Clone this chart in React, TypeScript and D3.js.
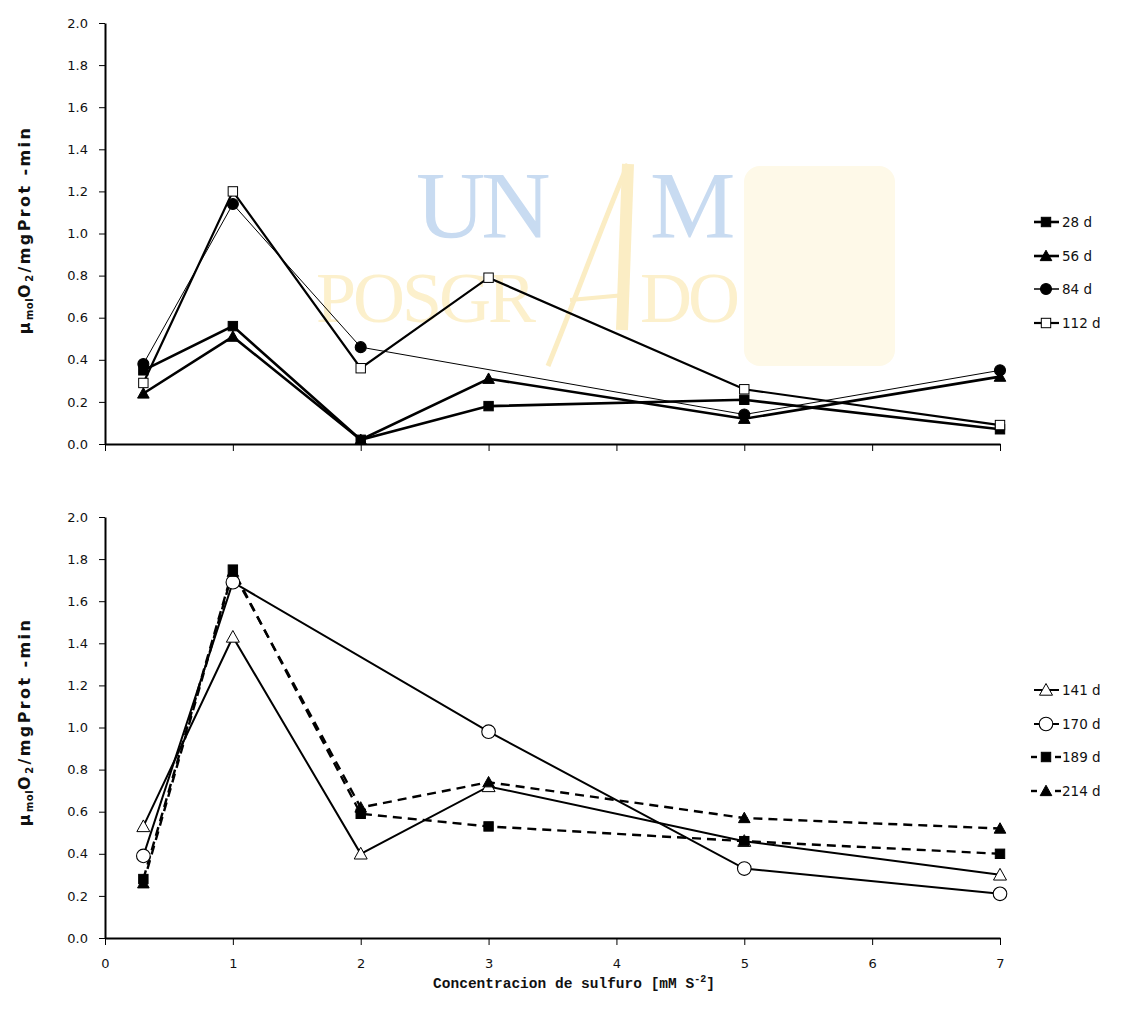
import React, { useEffect, useRef } from "react";
import * as d3 from "d3";

const xValues = [0.3, 1, 2, 3, 5, 7];
const xTicks = [0, 1, 2, 3, 4, 5, 6, 7];
const yTicks = [0, 0.2, 0.4, 0.6, 0.8, 1.0, 1.2, 1.4, 1.6, 1.8, 2.0];

const top28 = [0.35, 0.56, 0.02, 0.18, 0.21, 0.07];
const top56 = [0.24, 0.51, 0.02, 0.31, 0.12, 0.32];
const top84 = [0.38, 1.14, 0.46, null, 0.14, 0.35];
const top112 = [0.29, 1.2, 0.36, 0.79, 0.26, 0.09];

const bot141 = [0.53, 1.43, 0.4, 0.72, 0.46, 0.3];
const bot170 = [0.39, 1.69, null, 0.98, 0.33, 0.21];
const bot189 = [0.28, 1.75, 0.59, 0.53, 0.46, 0.4];
const bot214 = [0.26, 1.74, 0.62, 0.74, 0.57, 0.52];

type Marker = "sqF" | "triF" | "cirF" | "sqO" | "triO" | "cirO";
interface Series {
  name: string;
  values: (number | null)[];
  marker: Marker;
  width: number;
  dash?: string;
}

const topSeries: Series[] = [
  { name: "28 d", values: top28, marker: "sqF", width: 2.6 },
  { name: "56 d", values: top56, marker: "triF", width: 2.6 },
  { name: "84 d", values: top84, marker: "cirF", width: 1 },
  { name: "112 d", values: top112, marker: "sqO", width: 2.2 },
];
const botSeries: Series[] = [
  { name: "141 d", values: bot141, marker: "triO", width: 2 },
  { name: "170 d", values: bot170, marker: "cirO", width: 2 },
  { name: "189 d", values: bot189, marker: "sqF", width: 2.4, dash: "9,6" },
  { name: "214 d", values: bot214, marker: "triF", width: 2.4, dash: "9,6" },
];

const W = 1139;
const H = 1015;
const X0 = 105;
const X1 = 1000;
const FONT = "'DejaVu Sans', Verdana, sans-serif";

function drawMarker(g: any, m: Marker, cx: number, cy: number) {
  const s = 4.7;
  if (m === "sqF" || m === "sqO") {
    g.append("rect")
      .attr("x", cx - s)
      .attr("y", cy - s)
      .attr("width", 2 * s)
      .attr("height", 2 * s)
      .attr("fill", m === "sqF" ? "#000" : "#fff")
      .attr("stroke", "#000")
      .attr("stroke-width", 1);
  } else if (m === "triF" || m === "triO") {
    const r = m === "triO" ? 6.5 : 5.8;
    g.append("path")
      .attr("d", `M${cx},${cy - r}L${cx + r},${cy + r * 0.8}L${cx - r},${cy + r * 0.8}Z`)
      .attr("fill", m === "triF" ? "#000" : "#fff")
      .attr("stroke", "#000")
      .attr("stroke-width", 1);
  } else {
    g.append("circle")
      .attr("cx", cx)
      .attr("cy", cy)
      .attr("r", m === "cirF" ? 5.5 : 6.8)
      .attr("fill", m === "cirF" ? "#000" : "#fff")
      .attr("stroke", "#000")
      .attr("stroke-width", 1.1);
  }
}

function drawPanel(svg: any, series: Series[], yTop: number, yBot: number, showXLabels: boolean, legendY: number[]) {
  const x = d3.scaleLinear().domain([0, 7]).range([X0, X1]);
  const y = d3.scaleLinear().domain([0, 2]).range([yBot, yTop]);
  const g = svg.append("g");

  const ya = g.append("g").attr("transform", `translate(${X0},0)`).call(
    d3.axisLeft(y).tickValues(yTicks).tickFormat(d3.format(".1f")).tickSize(6).tickSizeOuter(0)
  );
  ya.select(".domain").attr("stroke-width", 2);
  ya.selectAll("line").attr("stroke-width", 1);
  ya.selectAll("text").attr("font-family", FONT).attr("font-size", 13).attr("fill", "#111").attr("dx", -8);

  const xa = g.append("g").attr("transform", `translate(0,${yBot})`).call(
    d3.axisBottom(x).tickValues(xTicks).tickSize(7).tickSizeOuter(0)
      .tickFormat((d: any) => (showXLabels ? String(d) : ""))
  );
  xa.select(".domain").attr("stroke-width", 2);
  xa.selectAll("line").attr("stroke-width", 1);
  xa.selectAll("text").attr("font-family", FONT).attr("font-size", 13).attr("fill", "#111").attr("dy", "1.55em");

  const line = d3.line<[number, number]>().x((d) => x(d[0])).y((d) => y(d[1]));

  series.forEach((s) => {
    const pts: [number, number][] = [];
    s.values.forEach((v, i) => {
      if (v !== null) pts.push([xValues[i], v]);
    });
    g.append("path")
      .attr("d", line(pts))
      .attr("fill", "none")
      .attr("stroke", "#000")
      .attr("stroke-width", s.width)
      .attr("stroke-dasharray", s.dash || null)
      .attr("stroke-linejoin", "miter");
  });
  series.forEach((s) => {
    s.values.forEach((v, i) => {
      if (v !== null) drawMarker(g, s.marker, x(xValues[i]), y(v));
    });
  });

  series.forEach((s, i) => {
    const ly = legendY[i];
    const lg = g.append("g");
    if (s.dash) {
      lg.append("line").attr("x1", 1031).attr("x2", 1037).attr("y1", ly).attr("y2", ly).attr("stroke", "#000").attr("stroke-width", s.width);
      lg.append("line").attr("x1", 1055).attr("x2", 1061).attr("y1", ly).attr("y2", ly).attr("stroke", "#000").attr("stroke-width", s.width);
    } else {
      lg.append("line").attr("x1", 1034).attr("x2", 1059).attr("y1", ly).attr("y2", ly).attr("stroke", "#000").attr("stroke-width", Math.max(s.width, 1.5));
    }
    drawMarker(lg, s.marker, 1046, ly);
    lg.append("text").attr("x", 1062).attr("y", ly + 5).attr("font-family", FONT).attr("font-size", 13.5).attr("fill", "#111").text(s.name);
  });

  return { x, y };
}

function yTitle(svg: any, cy: number) {
  const t = svg.append("text")
    .attr("transform", `translate(30,${cy}) rotate(-90)`)
    .attr("text-anchor", "middle")
    .attr("font-family", FONT)
    .attr("font-weight", "bold")
    .attr("font-size", 16)
    .attr("letter-spacing", 2.4)
    .attr("fill", "#111");
  t.append("tspan").text("μ");
  t.append("tspan").attr("font-size", 10).attr("dy", 3).attr("letter-spacing", 0.5).text("mol");
  t.append("tspan").attr("dy", -3).text("O");
  t.append("tspan").attr("font-size", 10).attr("dy", 3).text("2");
  t.append("tspan").attr("dy", -3).text("/mgProt -min");
}

export default function App() {
  const ref = useRef<SVGSVGElement>(null);
  useEffect(() => {
    const svg = d3.select(ref.current);
    svg.selectAll("*").remove();
    svg.append("rect").attr("width", W).attr("height", H).attr("fill", "#fff");

    // faint UNAM / POSGRADO watermark (background logo)
    const wm = svg.append("g");
    wm.append("rect").attr("x", 744).attr("y", 166).attr("width", 151).attr("height", 200).attr("fill", "#fef9e8").attr("rx", 16);
    wm.append("path")
      .attr("d", "M548,366 C575,300 600,230 628,164")
      .attr("fill", "none").attr("stroke", "#fbedc4").attr("stroke-width", 5);
    wm.append("path")
      .attr("d", "M628,164 L622,330")
      .attr("fill", "none").attr("stroke", "#fbedc4").attr("stroke-width", 12);
    wm.append("path")
      .attr("d", "M570,300 L625,295")
      .attr("fill", "none").attr("stroke", "#fbedc4").attr("stroke-width", 4);
    const wt = wm.append("text").attr("font-family", "'Liberation Serif', 'DejaVu Serif', serif");
    wt.append("tspan").attr("x", 416).attr("y", 238).attr("font-size", 96).attr("letter-spacing", -4).attr("fill", "#c8dbf1").text("UN");
    wt.append("tspan").attr("x", 650).attr("y", 238).attr("font-size", 96).attr("fill", "#c8dbf1").text("M");
    const wt2 = wm.append("text").attr("font-family", "'Liberation Serif', 'DejaVu Serif', serif");
    wt2.append("tspan").attr("x", 316).attr("y", 322).attr("font-size", 72).attr("letter-spacing", -3).attr("fill", "#fcf0cc").text("POSGR");
    wt2.append("tspan").attr("x", 640).attr("y", 322).attr("font-size", 72).attr("letter-spacing", -4).attr("fill", "#fcf0cc").text("DO");

    drawPanel(svg, topSeries, 23, 444, false, [222, 256, 289, 323]);
    drawPanel(svg, botSeries, 517, 938, true, [690, 724, 757, 791]);

    yTitle(svg, 230);
    yTitle(svg, 722);

    const xt = svg.append("text")
      .attr("x", 574)
      .attr("y", 988)
      .attr("text-anchor", "middle")
      .attr("font-family", "'Liberation Mono', monospace")
      .attr("font-weight", "bold")
      .attr("font-size", 14.5)
      .attr("fill", "#111");
    xt.append("tspan").text("Concentracion de sulfuro [mM S");
    xt.append("tspan").attr("font-size", 10).attr("dy", -6).text("-2");
    xt.append("tspan").attr("dy", 6).text("]");
  }, []);
  return (
    <svg
      ref={ref}
      width={W}
      height={H}
      style={{ position: "absolute", left: 0, top: 0, display: "block" }}
    />
  );
}
